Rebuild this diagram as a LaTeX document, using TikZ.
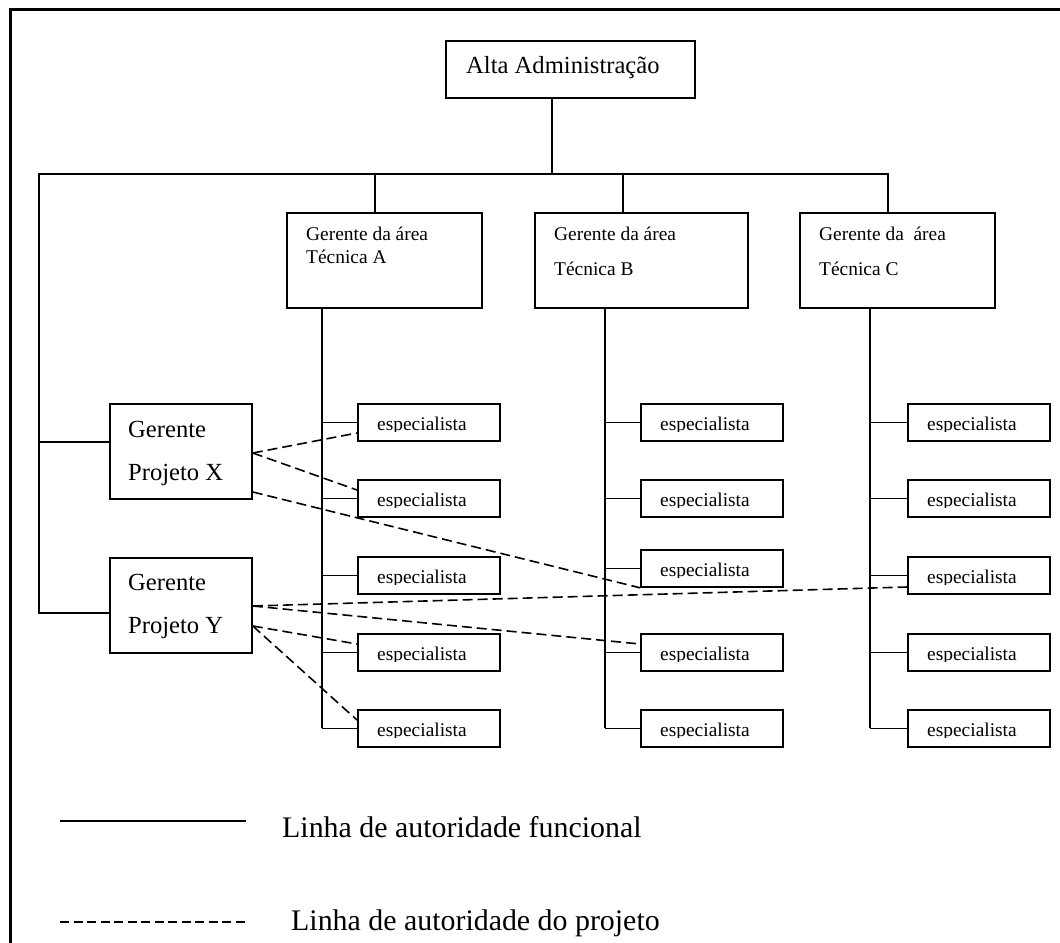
\documentclass[tikz,border=0pt]{standalone}
\usepackage{fontspec}
\setmainfont{Liberation Serif}
\usetikzlibrary{calc}
\begin{document}
\begin{tikzpicture}[x=1bp,y=-1bp,
  box/.style={draw, line width=1.8bp, inner sep=0pt, anchor=north west},
  espbox/.style={box, minimum width=142bp, minimum height=37bp},
  mgrbox/.style={box, minimum height=95bp},
  solidline/.style={line width=1.8bp},
  dashline/.style={line width=1.6bp, dash pattern=on 10bp off 5bp},
  legdash/.style={line width=1.5bp, dash pattern=on 9bp off 4.5bp},
  txt/.style={anchor=base west, inner sep=0pt},
  small/.style={font=\fontsize{19.5}{22}\selectfont},
  mid/.style={font=\fontsize{24.7}{28}\selectfont},
  big/.style={font=\fontsize{30}{34}\selectfont},
]
\useasboundingbox (0,0) rectangle (1060,943);
% outer frame (cropped)
\coordinate (fbl) at (10,950);
\coordinate (ftl) at (10,9);
\coordinate (ftr) at (1070,9);
\draw[line width=3bp] (fbl) -- (ftl) -- (ftr);

% top box
\node[box, minimum width=249bp, minimum height=57bp] (alta) at (445,40) {};
\node[txt,mid] (talta) at (466,73) {Alta Administração};

% area managers
\node[mgrbox, minimum width=195bp] (ga) at (286,212) {};
\node[mgrbox, minimum width=213bp] (gb) at (534,212) {};
\node[mgrbox, minimum width=195bp] (gc) at (799,212) {};
\node[txt,small] (ga1) at (306,240) {Gerente da área};
\node[txt,small] (ga2) at (306,263) {Técnica A};
\node[txt,small] (gb1) at (554,240) {Gerente da área};
\node[txt,small] (gb2) at (554,275) {Técnica B};
\node[txt,small] (gc1) at (819,240) {Gerente da\ \ área};
\node[txt,small] (gc2) at (819,275) {Técnica C};

% project managers
\node[box, minimum width=142bp, minimum height=95bp] (gx) at (109,403) {};
\node[box, minimum width=142bp, minimum height=95bp] (gy) at (109,557) {};
\node[txt,mid] (gx1) at (128,437) {Gerente};
\node[txt,mid] (gx2) at (128,480) {Projeto X};
\node[txt,mid] (gy1) at (128,590) {Gerente};
\node[txt,mid] (gy2) at (128,633) {Projeto Y};

% specialists
\foreach \n/\x/\y in {a1/357/403,a2/357/479,a3/357/556,a4/357/633,a5/357/709,
                      b1/640/403,b2/640/479,b3/640/549,b4/640/633,b5/640/709,
                      c1/907/403,c2/907/479,c3/907/556,c4/907/633,c5/907/709}{
  \node[espbox] (\n) at (\x,\y) {};
  \begin{scope}
    \clip (\x,\y) rectangle ++(142,28.5);
    \node[txt,small] (t\n) at (\x+20,\y+27.5) {especialista};
  \end{scope}
}

% functional lines
\coordinate (altaout) at ($(alta.south west)+(107,0)$);
\coordinate (lcorner) at (39,174);
\coordinate (dA) at ($(ga.north west)+(89,0)$);
\coordinate (dB) at ($(gb.north west)+(89,0)$);
\coordinate (dC) at ($(gc.north west)+(89,0)$);
\coordinate (lx) at ($(gx.north west)+(0,39)$);
\coordinate (ly) at ($(gy.north west)+(0,56)$);
\draw[solidline] (altaout) -- (altaout |- lcorner);
\draw[solidline] (ly) -| (lcorner) -| (dC);
\draw[solidline] (lx) -- (lx -| lcorner);
\draw[solidline] (dA |- lcorner) -- (dA);
\draw[solidline] (dB |- lcorner) -- (dB);

\coordinate (sA) at ($(ga.south west)+(36,0)$);
\coordinate (sB) at ($(gb.south west)+(71,0)$);
\coordinate (sC) at ($(gc.south west)+(71,0)$);
\draw[solidline] (sA) -- (sA |- a5.west);
\draw[solidline] (sB) -- (sB |- b5.west);
\draw[solidline] (sC) -- (sC |- c5.west);
\foreach \i in {1,...,5}{
  \draw[solidline] (a\i.west) -- (a\i.west -| sA);
  \draw[solidline] (b\i.west) -- (b\i.west -| sB);
  \draw[solidline] (c\i.west) -- (c\i.west -| sC);
}

% project authority lines
\draw[dashline] ($(gx.north east)+(0,50)$) -- ($(a1.north west)+(0,30)$);
\draw[dashline] ($(gx.north east)+(0,50)$) -- ($(a2.north west)+(0,11)$);
\draw[dashline] ($(gx.north east)+(0,89)$) -- (b3.south west);
\draw[dashline] ($(gy.north east)+(0,49)$) -- ($(c3.north west)+(0,31)$);
\draw[dashline] ($(gy.north east)+(0,49)$) -- ($(b4.north west)+(0,11)$);
\draw[dashline] ($(gy.north east)+(0,69)$) -- ($(a4.north west)+(0,11)$);
\draw[dashline] ($(gy.north east)+(0,69)$) -- ($(a5.north west)+(0,11)$);

% legend
\coordinate (l1a) at (60,821);
\coordinate (l1b) at (246,821);
\coordinate (l2a) at (60,922);
\coordinate (l2b) at (246,922);
\draw[solidline] (l1a) -- (l1b);
\draw[legdash] (l2a) -- (l2b);
\node[txt,big] (leg1) at (282,837) {Linha de autoridade funcional};
\node[txt,big] (leg2) at (291,930) {Linha de autoridade do projeto};
\end{tikzpicture}
\end{document}
